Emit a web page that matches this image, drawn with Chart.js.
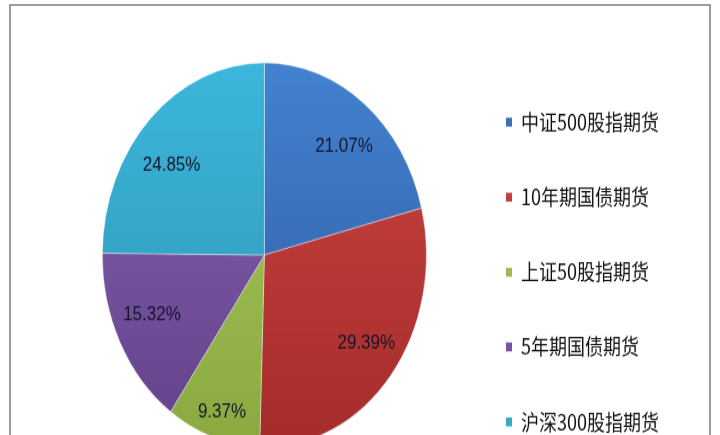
<!DOCTYPE html>
<html><head><meta charset="utf-8">
<script src="https://cdn.jsdelivr.net/npm/chart.js@4.4.1/dist/chart.umd.min.js"></script>
<style>
html,body{margin:0;padding:0;width:720px;height:435px;overflow:hidden;background:#fff;}
#frame{position:absolute;left:9px;top:4px;width:698px;height:520px;border:2px solid #9c9c9c;border-bottom:none;}
#wrap{position:absolute;left:0;top:0;width:720px;height:430px;transform:scaleY(1.186);transform-origin:0 0;}
</style></head><body>
<div id="frame"></div>
<div id="wrap"><canvas id="c"></canvas></div>
<script>
// ---- data ----
const categories = ['中证500股指期货', '10年期国债期货', '上证50股指期货', '5年期国债期货', '沪深300股指期货'];
const shares = [21.07, 29.39, 9.37, 15.32, 24.85];
const shareLabels = shares.map(v => v.toFixed(2) + '%');

// ---- styles ----
const flatColors = ['#3b6fb8', '#c0403c', '#9bbb50', '#7653a0', '#36a8c9'];
const topColors  = ['#4282cf', '#cc4542', '#a9c760', '#8a62b5', '#3cb6dc'];
const botColors  = ['#3359a0', '#a52c2b', '#8aaa40', '#614288', '#2c93b0'];
const labelRadial = [0.75, 0.78, 0.86, 0.76, 0.74];
const labelAngleShift = [3, -2.5, -0.8, 3, -6];
const PIE_R = 162;
const LEGEND_FONT = '"Noto Sans CJK SC", sans-serif';
const LEGEND_SIZE = 18;
const LEGEND_PAD = 45.2;
const LEGEND_BOX_W = 6;
const LEGEND_LEFT = 460.8;

// legend width as Chart.js computes it, so its left edge lands where wanted
const mc = document.createElement('canvas').getContext('2d');
mc.font = LEGEND_SIZE + 'px ' + LEGEND_FONT;
const maxTextW = Math.max(...categories.map(t => mc.measureText(t).width));
const legendW = LEGEND_PAD + LEGEND_BOX_W + LEGEND_SIZE / 2 + maxTextW + 10;
const padRight = Math.max(0, 720 - LEGEND_LEFT - legendW);

const sliceLabels = {
  id: 'sliceLabels',
  afterDatasetsDraw(chart) {
    const meta = chart.getDatasetMeta(0);
    const c = chart.ctx;
    c.save();
    c.font = '17px "Liberation Sans", Arial, sans-serif';
    c.fillStyle = '#15152e';
    c.textAlign = 'center';
    c.textBaseline = 'middle';
    meta.data.forEach((arc, i) => {
      const p = arc.getProps(['x', 'y', 'startAngle', 'endAngle', 'outerRadius'], true);
      const a = (p.startAngle + p.endAngle) / 2 + labelAngleShift[i] * Math.PI / 180;
      const r = p.outerRadius * labelRadial[i];
      c.fillText(shareLabels[i], p.x + Math.cos(a) * r, p.y + Math.sin(a) * r);
    });
    c.restore();
  }
};

new Chart(document.getElementById('c'), {
  type: 'pie',
  data: {
    labels: categories,
    datasets: [{
      data: shares,
      radius: PIE_R,
      clip: false,
      borderWidth: 1,
      borderColor: 'rgba(255,255,255,0.35)',
      backgroundColor: (ctx) => {
        const i = ctx.dataIndex;
        const chart = ctx.chart;
        const area = chart.chartArea;
        if (!area || ctx.type !== 'data') return flatColors[i];
        const cy = (area.top + area.bottom) / 2;
        const g = chart.ctx.createLinearGradient(0, cy - PIE_R, 0, cy + PIE_R);
        g.addColorStop(0, topColors[i]);
        g.addColorStop(1, botColors[i]);
        return g;
      }
    }]
  },
  options: {
    responsive: true,
    maintainAspectRatio: false,
    animation: false,
    layout: { padding: { left: 68, right: padRight, top: 0, bottom: 0 } },
    plugins: {
      tooltip: { enabled: false },
      legend: {
        position: 'right',
        align: 'center',
        title: { display: true, text: ' ', color: 'rgba(0,0,0,0)', font: { size: 10, lineHeight: 1 }, padding: { top: 0, bottom: 18.8 } },
        labels: {
          boxWidth: LEGEND_BOX_W,
          boxHeight: 7.5,
          padding: LEGEND_PAD,
          color: '#111111',
          font: { family: LEGEND_FONT, size: LEGEND_SIZE },
          generateLabels(chart) {
            const items = Chart.overrides.pie.plugins.legend.labels.generateLabels(chart);
            items.forEach((it, i) => { it.fillStyle = flatColors[i]; it.strokeStyle = flatColors[i]; it.lineWidth = 0; });
            return items;
          }
        }
      }
    }
  },
  plugins: [sliceLabels]
});
</script>
</body></html>
